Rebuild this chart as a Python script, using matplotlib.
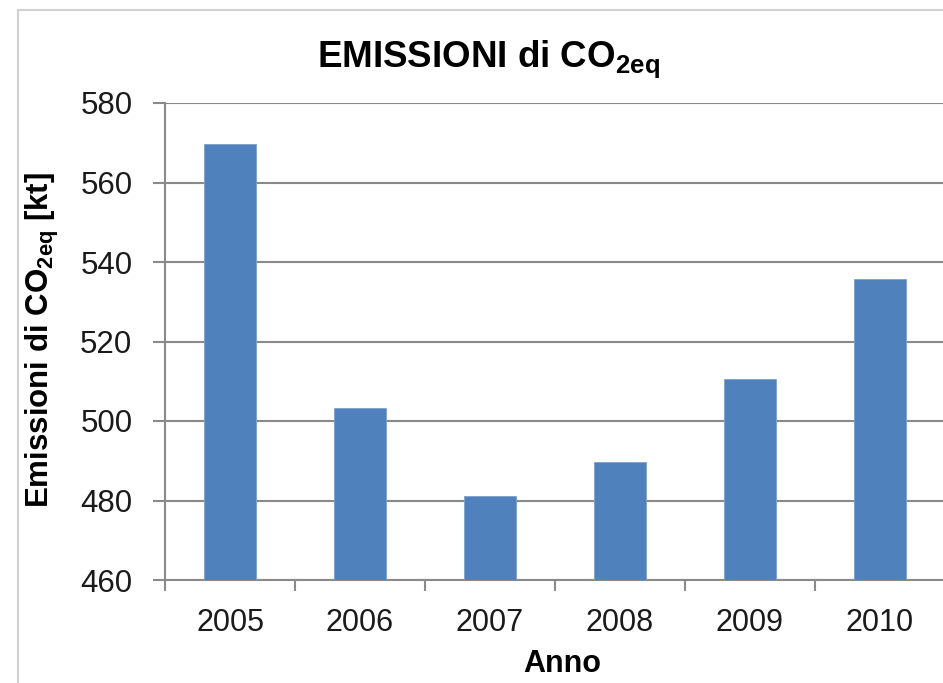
import matplotlib
matplotlib.use("Agg")
import matplotlib.pyplot as plt
from matplotlib.patches import Rectangle
import numpy as np

years = ["2005", "2006", "2007", "2008", "2009", "2010"]
emissions = [569.7, 503.3, 481.1, 489.7, 510.6, 535.7]
y_ticks = [460, 480, 500, 520, 540, 560, 580]

plt.rcParams['font.family'] = ['Liberation Sans', 'DejaVu Sans']
plt.rcParams['mathtext.fontset'] = 'custom'
plt.rcParams['mathtext.rm'] = 'Liberation Sans'
plt.rcParams['mathtext.bf'] = 'Liberation Sans:bold'
plt.rcParams['mathtext.it'] = 'Liberation Sans:italic'

W, H = 943, 683
fig = plt.figure(figsize=(W/100, H/100), dpi=100)

# outer chart frame (partially cropped)
fig.patches.append(Rectangle((18/W, -0.1), 1.2, (H-10)/H + 0.1, transform=fig.transFigure,
                             fill=False, edgecolor='#d0d0d0', linewidth=1.5))

ax = fig.add_axes([165/W, (H-580)/H, (945-165)/W, (580-103)/H])
x = np.arange(len(years))
grid_color = '#8a8a8a'
ax.bar(x, emissions, width=0.4, color='#4F81BD', edgecolor='#7ea1cc', linewidth=0.6, zorder=3)
ax.set_xlim(-0.5, len(years) - 0.5)
ax.set_ylim(460, 580)
ax.set_yticks(y_ticks)
ax.yaxis.grid(True, color=grid_color, linewidth=1.5, zorder=0)
ax.set_axisbelow(True)

ax.set_xticks(np.arange(-0.5, len(years)), labels=[''] * (len(years) + 1))
ax.set_xticks(x, labels=years, minor=True)
ax.tick_params(axis='x', which='major', length=8, width=1.5, color=grid_color, direction='out')
ax.tick_params(axis='x', which='minor', length=0, pad=20, labelsize=22, labelcolor='#1a1a1a')
ax.tick_params(axis='y', length=8.5, width=1.5, color=grid_color, direction='out',
               labelsize=22.5, labelcolor='#1a1a1a', pad=15)

for s in ['top', 'right']:
    ax.spines[s].set_visible(False)
for s in ['left', 'bottom']:
    ax.spines[s].set_color(grid_color)
    ax.spines[s].set_linewidth(1.5)

fig.text(488/W, 1 - 67/H, r"EMISSIONI di CO$_\mathbf{2eq}$", ha='center', va='baseline',
         fontsize=26.5, fontweight='bold', color='black')
fig.text(42/W, 1 - 340/H, r"Emissioni di CO$_\mathbf{2eq}$ [kt]", ha='center', va='center',
         rotation=90, fontsize=22.5, fontweight='bold', color='black')
fig.text(562/W, 1 - 664/H, "Anno", ha='center', va='center',
         fontsize=22, fontweight='bold', color='black')

fig.savefig("out.png", dpi=100)
